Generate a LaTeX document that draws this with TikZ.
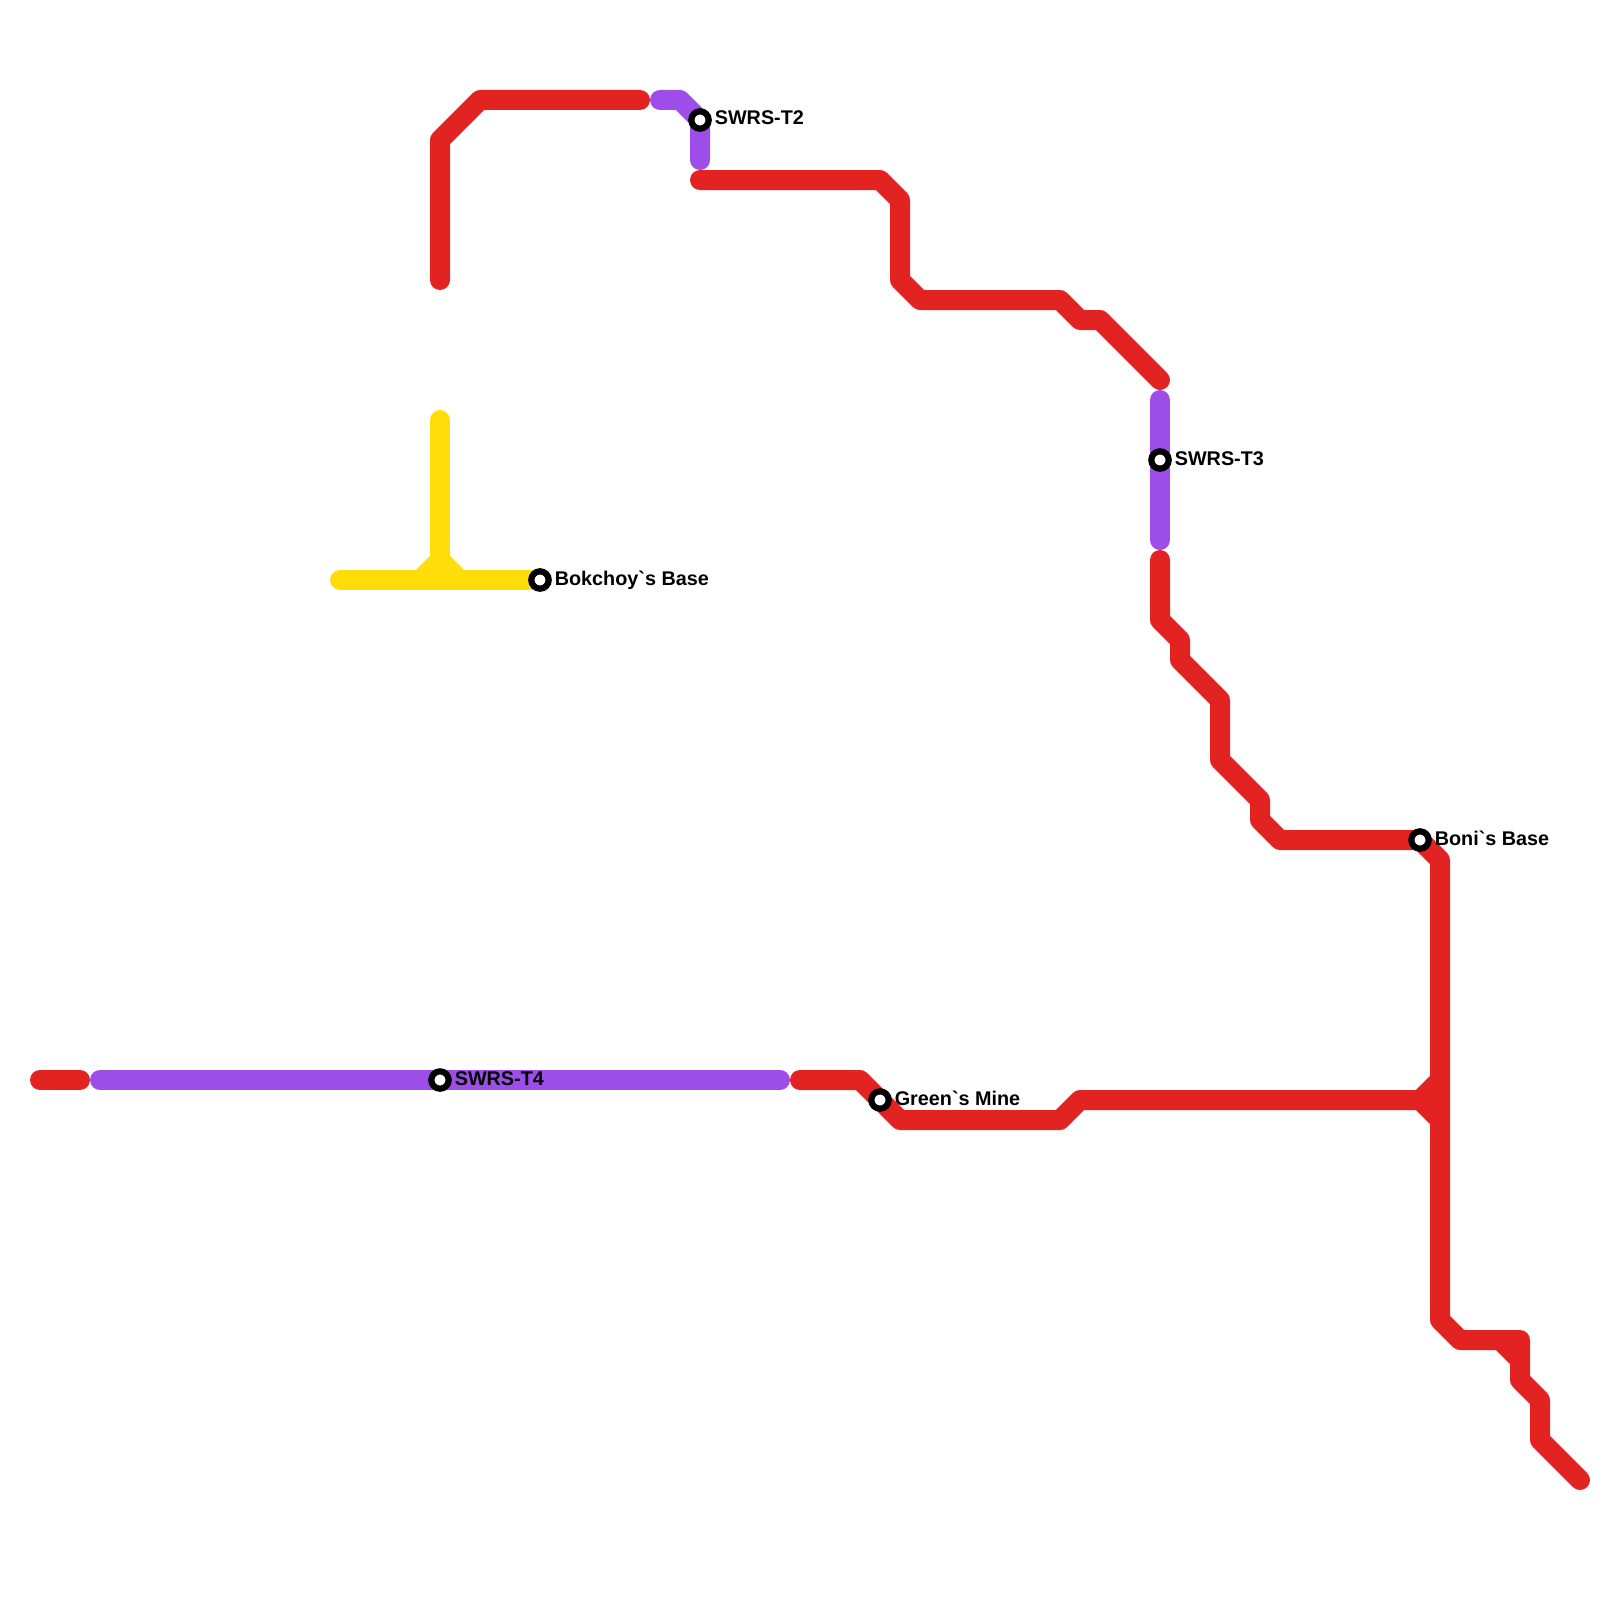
\documentclass[tikz,border=0pt]{standalone}
\usepackage{fontspec}
\setmainfont{Liberation Sans}[Ligatures=TeXOff]
\usetikzlibrary{positioning,backgrounds}
\definecolor{linered}{HTML}{E32322}
\definecolor{linepurple}{HTML}{9D4EE9}
\definecolor{lineyellow}{HTML}{FFDD0A}

\begin{document}
\begin{tikzpicture}[
    x=0.5pt,y=-0.5pt,
    node distance=1.5pt,
    route/.style={line width=10pt,line cap=round,line join=round},
    redroute/.style={route,linered},
    purpleroute/.style={route,linepurple},
    yellowroute/.style={route,lineyellow},
    stn/.style={circle,draw=black,fill=white,line width=3.1pt,minimum size=8.7pt,inner sep=0pt},
    lbl/.style={inner sep=0pt,outer sep=0pt,yshift=1.1pt,text height=7.2pt,text depth=0pt,font=\fontsize{9.9}{12}\selectfont\bfseries}]
    \useasboundingbox (0,0) rectangle (1600,1600);
    % stations
    \node[stn] (t2) at (700,120) {};
    \node[stn] (t3) at (1160,460) {};
    \node[stn] (t4) at (440,1080) {};
    \node[stn] (bokchoy) at (540,580) {};
    \node[stn] (boni) at (1420,840) {};
    \node[stn] (green) at (880,1100) {};
    \node[lbl,right=of t2] (t2lbl) {SWRS-T2};
    \node[lbl,right=of t3] (t3lbl) {SWRS-T3};
    \node[lbl,right=of t4] (t4lbl) {SWRS-T4};
    \node[lbl,right=of bokchoy] (bokchoylbl) {Bokchoy`s Base};
    \node[lbl,right=of boni] (bonilbl) {Boni`s Base};
    \node[lbl,right=of green] (greenlbl) {Green`s Mine};
    % free ends
    \coordinate (r1a) at (440,280);
    \coordinate (r1b) at (640,100);
    \coordinate (p1a) at (660,100);
    \coordinate (p1b) at (700,160);
    \coordinate (r2a) at (700,180);
    \coordinate (r2b) at (1160,380);
    \coordinate (p2a) at (1160,400);
    \coordinate (p2b) at (1160,540);
    \coordinate (r3a) at (1160,560);
    \coordinate (r3b) at (1580,1480);
    \coordinate (r4a) at (40,1080);
    \coordinate (r4b) at (80,1080);
    \coordinate (p3a) at (100,1080);
    \coordinate (p3b) at (780,1080);
    \coordinate (r5a) at (800,1080);
    \coordinate (r5b) at (1420,1100);
    \coordinate (r5c) at (1440,1080);
    \coordinate (r5d) at (1440,1120);
    \coordinate (r6a) at (1500,1340);
    \coordinate (r6b) at (1520,1360);
    \coordinate (y1a) at (340,580);
    \coordinate (y1b) at (440,420);
    \coordinate (y1c) at (440,560);
    \coordinate (y1d) at (420,580);
    \coordinate (y1e) at (460,580);
    \begin{scope}[on background layer]
    \draw[redroute] (r1a)--(440,140)--(480,100)--(r1b);
    \draw[purpleroute] (p1a)--(680,100)--(t2.center)--(p1b);
    \draw[redroute] (r2a)--(880,180)--(900,200)--(900,280)--(920,300)--(1060,300)--(1080,320)--(1100,320)--(r2b);
    \draw[purpleroute] (p2a)--(t3.center)--(p2b);
    \draw[redroute] (r3a)--(1160,620)--(1180,640)--(1180,660)--(1220,700)--(1220,760)--(1260,800)--(1260,820)--(1280,840)--(boni.center)--(1440,860)--(1440,1320)--(1460,1340)--(1520,1340)--(1520,1380)--(1540,1400)--(1540,1440)--(r3b);
    \draw[redroute] (r4a)--(r4b);
    \draw[purpleroute] (p3a)--(t4.center)--(p3b);
    \draw[redroute] (r5a)--(860,1080)--(green.center)--(900,1120)--(1060,1120)--(1080,1100)--(r5b);
    \draw[redroute] (r5b)--(r5c); \draw[redroute] (r5b)--(r5d);
    \draw[redroute] (r6a)--(r6b);
    \draw[yellowroute] (y1a)--(bokchoy.center);
    \draw[yellowroute] (y1b)--(y1c);
    \draw[yellowroute] (y1c)--(y1d); \draw[yellowroute] (y1c)--(y1e);
    \end{scope}
  \end{tikzpicture}
\end{document}
